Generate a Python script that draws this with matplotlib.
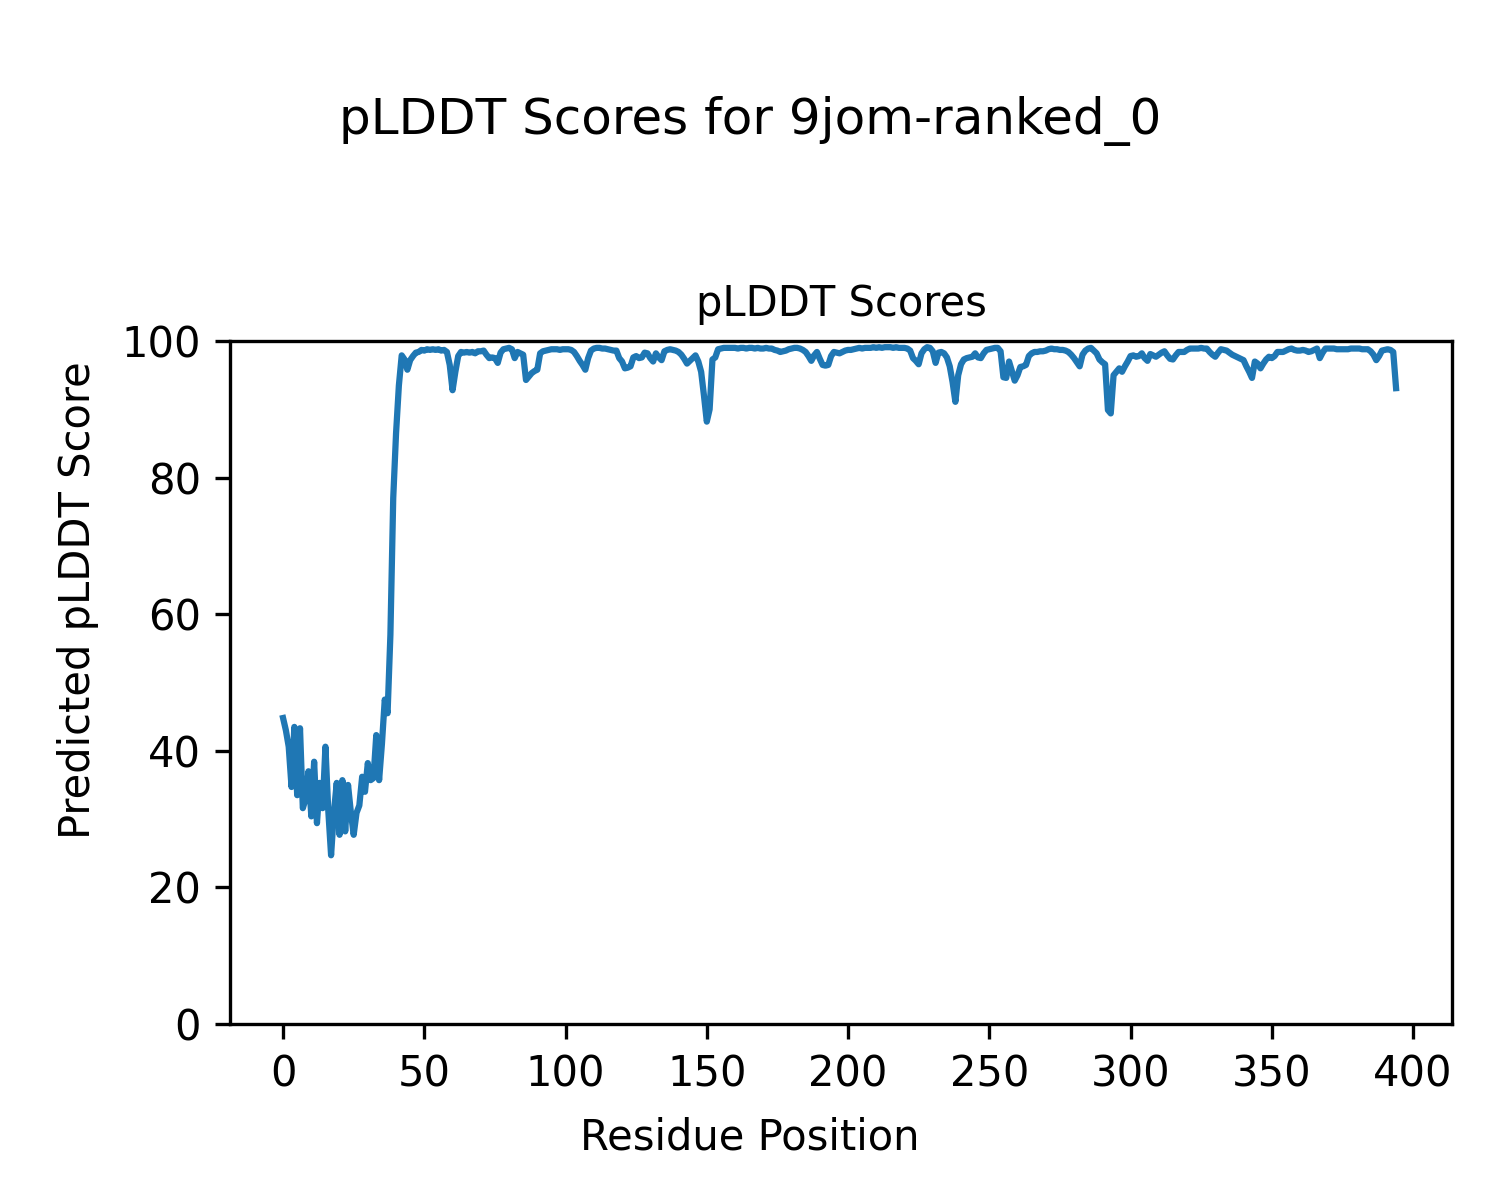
import matplotlib
matplotlib.use("Agg")
import matplotlib.pyplot as plt
import numpy as np

# pLDDT scores per residue (index 0..394)
plddt = [
    # 0-9
    44.8, 43.0, 40.6, 34.7, 43.5, 33.5, 43.3, 31.6, 33.0, 37.0,
    # 10-19
    30.4, 38.4, 29.4, 35.3, 31.6, 40.6, 31.3, 24.7, 31.0, 35.3,
    # 20-29
    27.7, 35.7, 28.2, 35.0, 31.0, 27.7, 30.9, 32.0, 36.2, 34.0,
    # 30-39
    38.2, 35.7, 36.0, 42.3, 35.7, 41.0, 47.5, 45.5, 57.0, 77.0,
    # 40-49
    86.5, 93.5, 97.9, 97.3, 95.8, 97.2, 97.8, 98.3, 98.4, 98.7,
    # 50-59
    98.6, 98.8, 98.7, 98.8, 98.7, 98.8, 98.6, 98.7, 98.4, 96.5,
    # 60-69
    92.8, 95.5, 97.8, 98.4, 98.3, 98.4, 98.3, 98.4, 98.2, 98.5,
    # 70-79
    98.5, 98.6, 98.0, 97.5, 97.6, 97.5, 96.8, 98.3, 98.8, 98.9,
    # 80-89
    99.0, 98.8, 97.5, 98.4, 98.2, 98.0, 94.3, 94.8, 95.3, 95.6,
    # 90-99
    95.8, 98.2, 98.5, 98.6, 98.7, 98.8, 98.8, 98.8, 98.7, 98.8,
    # 100-109
    98.8, 98.8, 98.7, 98.4, 97.8, 97.1, 96.5, 95.8, 97.5, 98.6,
    # 110-119
    98.9, 99.0, 99.0, 98.9, 98.9, 98.8, 98.7, 98.6, 98.6, 97.5,
    # 120-129
    97.0, 96.0, 96.1, 96.3, 97.6, 97.8, 97.5, 97.6, 98.3, 98.2,
    # 130-139
    97.5, 97.0, 98.2, 97.6, 97.2, 98.5, 98.7, 98.8, 98.7, 98.6,
    # 140-149
    98.4, 98.0, 97.4, 96.7, 97.1, 97.5, 97.9, 97.0, 95.5, 92.0,
    # 150-159
    88.2, 90.0, 97.3, 97.6, 98.8, 98.9, 99.0, 99.0, 99.0, 99.0,
    # 160-169
    99.0, 98.9, 99.0, 99.0, 98.9, 99.0, 99.0, 98.9, 99.0, 98.9,
    # 170-179
    98.9, 99.0, 98.9, 98.9, 98.7, 98.6, 98.4, 98.5, 98.6, 98.8,
    # 180-189
    98.9, 99.0, 99.0, 98.9, 98.7, 98.4, 97.8, 97.1, 97.9, 98.4,
    # 190-199
    97.4, 96.5, 96.4, 96.5, 97.8, 98.4, 98.3, 98.2, 98.4, 98.6,
    # 200-209
    98.7, 98.7, 98.8, 98.9, 99.0, 98.9, 99.0, 99.0, 99.0, 99.1,
    # 210-219
    99.0, 99.1, 99.0, 99.1, 99.1, 99.1, 99.0, 99.1, 99.0, 99.0,
    # 220-229
    99.0, 98.9, 98.6, 97.5, 97.1, 96.6, 98.2, 98.8, 99.1, 99.0,
    # 230-239
    98.5, 96.8, 98.3, 98.4, 98.2, 97.6, 96.3, 94.0, 91.1, 95.0,
    # 240-249
    96.6, 97.3, 97.5, 97.6, 97.7, 98.2, 97.6, 97.5, 98.2, 98.7,
    # 250-259
    98.8, 98.9, 99.0, 99.0, 98.5, 94.7, 94.6, 97.0, 95.6, 94.2,
    # 260-269
    95.0, 96.2, 96.3, 96.5, 97.8, 98.2, 98.4, 98.4, 98.5, 98.5,
    # 270-279
    98.6, 98.8, 98.9, 98.8, 98.8, 98.7, 98.7, 98.6, 98.4, 98.0,
    # 280-289
    97.5, 96.9, 96.3, 98.0, 98.6, 98.9, 99.0, 98.6, 98.2, 97.3,
    # 290-299
    96.9, 96.6, 89.9, 89.4, 95.0, 95.5, 96.0, 95.5, 96.3, 97.0,
    # 300-309
    97.8, 97.9, 97.7, 97.8, 98.2, 97.5, 97.1, 98.1, 97.9, 97.7,
    # 310-319
    98.0, 98.3, 98.5, 97.9, 97.4, 97.3, 97.9, 98.4, 98.4, 98.4,
    # 320-329
    98.7, 98.9, 98.9, 98.9, 98.9, 99.0, 98.9, 98.9, 98.4, 98.0,
    # 330-339
    97.7, 98.3, 98.8, 98.7, 98.6, 98.3, 98.0, 97.8, 97.6, 97.4,
    # 340-349
    97.2, 96.3, 95.5, 94.6, 97.0, 96.7, 96.0, 96.7, 97.3, 97.7,
    # 350-359
    97.5, 97.8, 98.4, 98.4, 98.4, 98.6, 98.8, 98.9, 98.7, 98.6,
    # 360-369
    98.6, 98.7, 98.6, 98.4, 98.5, 98.7, 98.9, 97.5, 98.3, 98.9,
    # 370-379
    98.9, 98.9, 98.9, 98.8, 98.8, 98.8, 98.8, 98.8, 98.9, 98.9,
    # 380-389
    98.9, 98.9, 98.8, 98.8, 98.8, 98.5, 98.0, 97.2, 97.8, 98.6,
    # 390-394
    98.7, 98.8, 98.7, 98.4, 93.1,
]
residues = list(range(len(plddt)))

suptitle_text = "pLDDT Scores for 9jom-ranked_0"
title_text = "pLDDT Scores"
xlabel_text = "Residue Position"
ylabel_text = "Predicted pLDDT Score"

fig = plt.figure(figsize=(5, 4), dpi=300)
ax = fig.add_axes([0.1533, 0.1467, 0.8147, 0.5691])
ax.plot(residues, plddt, color="#1f77b4", linewidth=1.5)
ax.set_xlim(-18.8, 413.8)
ax.set_ylim(0, 100)
ax.set_title(title_text, fontsize=10)
fig.supxlabel(xlabel_text, fontsize=10, x=0.5, y=0.0517, va="center")
fig.supylabel(ylabel_text, fontsize=10, x=0.052, y=0.5, ha="center", va="center")
fig.suptitle(suptitle_text, fontsize=12, y=0.92)

fig.savefig("out.png", dpi=300)
